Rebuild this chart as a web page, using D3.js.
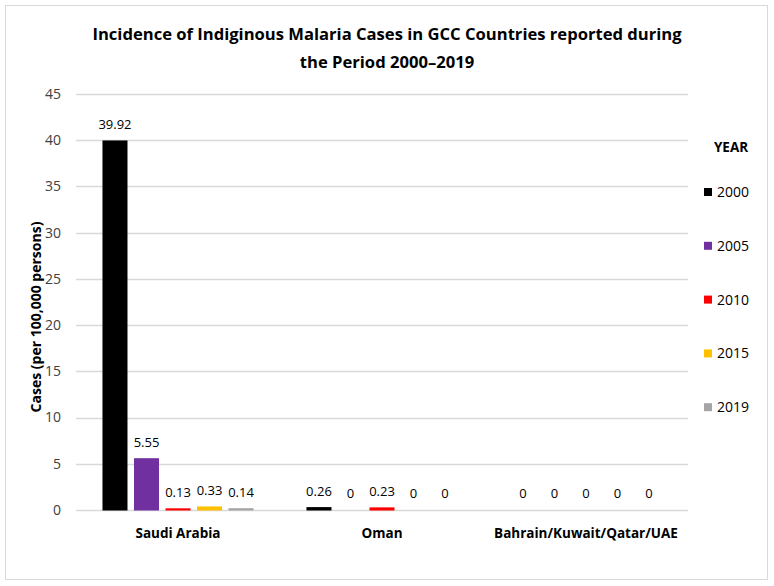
<!DOCTYPE html>
<meta charset="utf-8">
<script src="https://d3js.org/d3.v7.min.js"></script>
<style>
  body { margin: 0; background: #fff; }
  text { font-family: "Open Sans", sans-serif; fill: #000; }
</style>
<body>
<script>
var countries = ["Saudi Arabia", "Oman", "Bahrain/Kuwait/Qatar/UAE"];
var years = ["2000", "2005", "2010", "2015", "2019"];
var values = [
  [39.92, 5.55, 0.13, 0.33, 0.14],
  [0.26, 0, 0.23, 0, 0],
  [0, 0, 0, 0, 0]
];
var colors = ["#000000", "#7030a0", "#ff0000", "#ffc000", "#a5a5a5"];
var yTicks = [0, 5, 10, 15, 20, 25, 30, 35, 40, 45];

var W = 774, H = 586;
var svg = d3.select("body").append("svg").attr("width", W).attr("height", H);

svg.append("rect").attr("x", 5.5).attr("y", 5.5).attr("width", W - 12).attr("height", H - 12)
  .attr("fill", "#fff").attr("stroke", "#d9d9d9");

var pL = 76, pR = 688, pT = 94, pB = 510;
var x0 = d3.scaleBand().domain(countries).range([pL, pR]);
var x1 = d3.scaleBand().domain(years).range([0, x0.bandwidth()]).paddingInner(0.206).paddingOuter(0.84);
var y = d3.scaleLinear().domain([0, 45]).range([pB, pT]);

// grid
svg.append("g").selectAll("line").data(yTicks).enter().append("line")
  .attr("x1", pL).attr("x2", pR)
  .attr("y1", function (d) { return Math.round(y(d)) + 0.5; })
  .attr("y2", function (d) { return Math.round(y(d)) + 0.5; })
  .attr("stroke", "#d9d9d9").attr("stroke-width", 1.3);

svg.append("g").selectAll("text").data(yTicks).enter().append("text")
  .attr("x", pL - 15).attr("y", function (d) { return y(d); })
  .attr("dy", "0.35em").attr("text-anchor", "end")
  .style("font-size", "14px").style("fill", "#404040")
  .text(function (d) { return d; });

// bars
var groups = svg.append("g").selectAll("g").data(countries).enter().append("g")
  .attr("transform", function (d) { return "translate(" + x0(d) + ",0)"; });

groups.selectAll("rect").data(function (d, i) { return values[i]; }).enter().append("rect")
  .attr("x", function (d, j) { return x1(years[j]); })
  .attr("width", x1.bandwidth())
  .attr("y", function (d) { return y(d) - (d > 0 ? 0.5 : 0); })
  .attr("height", function (d) { return d > 0 ? pB - y(d) + 1 : 0; })
  .attr("fill", function (d, j) { return colors[j]; });

groups.selectAll("text").data(function (d, i) { return values[i]; }).enter().append("text")
  .attr("x", function (d, j) { return x1(years[j]) + x1.bandwidth() / 2; })
  .attr("y", function (d) { return y(d) - 12; })
  .attr("text-anchor", "middle")
  .style("font-size", "13px")
  .text(function (d) { return d; });

// category labels
svg.append("g").selectAll("text").data(countries).enter().append("text")
  .attr("x", function (d) { return x0(d) + x0.bandwidth() / 2; })
  .attr("y", 538)
  .attr("text-anchor", "middle")
  .style("font-size", "13.5px").style("font-weight", "bold")
  .text(function (d) { return d; });

// axis title
svg.append("text")
  .attr("transform", "translate(41," + ((pT + pB) / 2 + 15) + ") rotate(-90)")
  .attr("text-anchor", "middle")
  .style("font-size", "14px").style("font-weight", "bold")
  .text("Cases (per 100,000 persons)");

// title
svg.append("text").attr("x", 387).attr("y", 40).attr("text-anchor", "middle")
  .style("font-size", "16.6px").style("font-weight", "bold")
  .text("Incidence of Indiginous Malaria Cases in GCC Countries reported during");
svg.append("text").attr("x", 387).attr("y", 68).attr("text-anchor", "middle")
  .style("font-size", "16.6px").style("font-weight", "bold")
  .text("the Period 2000\u20132019");

// legend
var lg = svg.append("g");
lg.append("text").attr("x", 731).attr("y", 152).attr("text-anchor", "middle")
  .style("font-size", "13.5px").style("font-weight", "bold").text("YEAR");
var items = lg.selectAll("g").data(years).enter().append("g")
  .attr("transform", function (d, i) { return "translate(704," + (192 + i * 53.8) + ")"; });
items.append("rect").attr("x", 0).attr("y", -4).attr("width", 8).attr("height", 8)
  .attr("fill", function (d, i) { return colors[i]; });
items.append("text").attr("x", 13).attr("dy", "0.35em")
  .style("font-size", "14px").text(function (d) { return d; });
</script>
</body>
